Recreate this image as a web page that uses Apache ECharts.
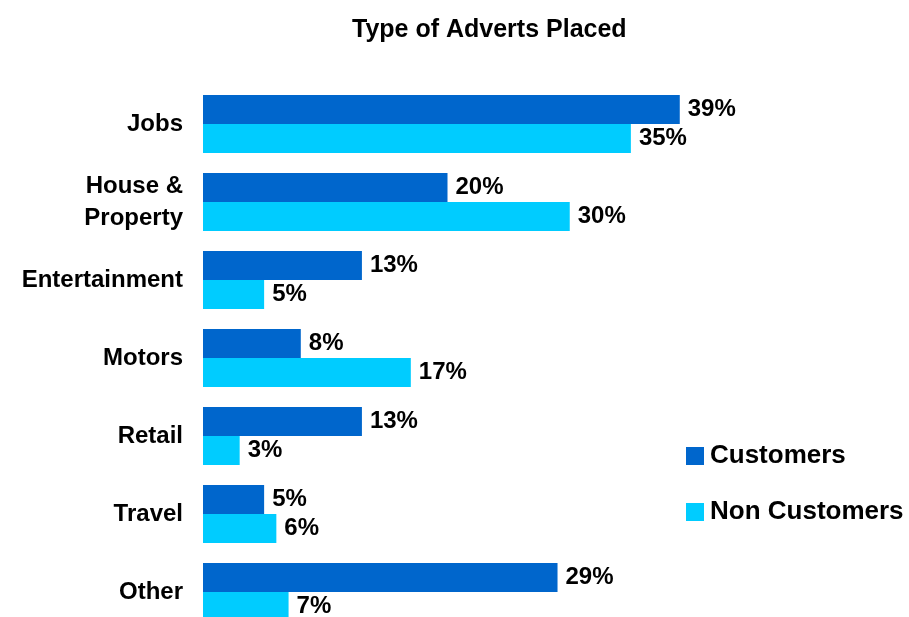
<!DOCTYPE html>
<html>
<head>
<meta charset="utf-8">
<script src="https://cdn.jsdelivr.net/npm/echarts@6/dist/echarts.min.js"></script>
<style>
  html, body { margin: 0; padding: 0; background: #fff; }
  #chart { width: 909px; height: 617px; }
</style>
</head>
<body>
<div id="chart"></div>
<script>
// Advert categories, top to bottom
const categories = ['Jobs', 'House &\nProperty', 'Entertainment', 'Motors', 'Retail', 'Travel', 'Other'];
// Share of each group placing each advert type (%)
const customers = [39, 20, 13, 8, 13, 5, 29];
const nonCustomers = [35, 30, 5, 17, 3, 6, 7];
const seriesNames = ['Customers', 'Non Customers'];

const FONT = "'Liberation Sans', Arial, Helvetica, sans-serif";

const chart = echarts.init(document.getElementById('chart'));

function valueLabel() {
  return {
    show: true,
    position: 'right',
    distance: 8,
    formatter: '{c}%',
    color: '#000',
    fontFamily: FONT,
    fontWeight: 'bold',
    fontSize: 24
  };
}

chart.setOption({
  animation: false,
  backgroundColor: '#fff',
  title: {
    text: 'Type of Adverts Placed',
    left: 347,
    top: 13,
    textStyle: { fontFamily: FONT, fontWeight: 'bold', fontSize: 25, color: '#000' }
  },
  legend: {
    orient: 'vertical',
    left: 686,
    top: 443,
    padding: 0,
    icon: 'rect',
    itemWidth: 18,
    itemHeight: 18,
    itemGap: 30,
    data: seriesNames,
    textStyle: { fontFamily: FONT, fontWeight: 'bold', fontSize: 26, color: '#000', lineHeight: 22, padding: [0, 0, 0, 1] }
  },
  // category ticks sit on the bar-pair centres; spacing = height / 6
  grid: { left: 203, top: 124, width: 489, height: 468, containLabel: false },
  xAxis: {
    type: 'value',
    min: 0,
    max: 40,
    show: false
  },
  yAxis: {
    type: 'category',
    data: categories,
    inverse: true,
    boundaryGap: false,
    axisLine: { show: false },
    axisTick: { show: false },
    splitLine: { show: false },
    axisLabel: {
      margin: 20,
      color: '#000',
      fontFamily: FONT,
      fontWeight: 'bold',
      fontSize: 24,
      lineHeight: 32,
      align: 'right'
    }
  },
  series: [
    {
      name: seriesNames[0],
      type: 'bar',
      data: customers,
      barWidth: 29,
      barGap: '0%',
      clip: false,
      itemStyle: { color: '#0066CC' },
      label: valueLabel()
    },
    {
      name: seriesNames[1],
      type: 'bar',
      data: nonCustomers,
      barWidth: 29,
      barGap: '0%',
      clip: false,
      itemStyle: { color: '#00CCFF' },
      label: valueLabel()
    }
  ]
});
</script>
</body>
</html>
